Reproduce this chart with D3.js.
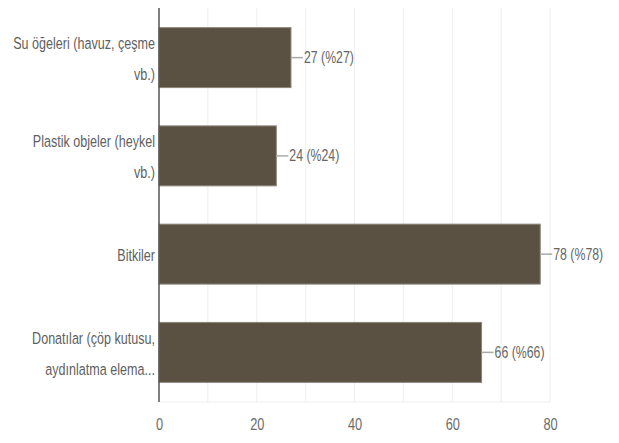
<!DOCTYPE html>
<html>
<head>
<meta charset="utf-8">
<script src="https://cdn.jsdelivr.net/npm/d3@7"></script>
<style>
  body { margin: 0; background: #fff; }
  svg text { font-family: "Liberation Sans", Arial, sans-serif; }
</style>
</head>
<body>
<div id="chart"></div>
<script>
// Chart data
const categories = [
    ["Su öğeleri (havuz, çeşme", "vb.)"],
    ["Plastik objeler (heykel", "vb.)"],
    ["Bitkiler"],
    ["Donatılar (çöp kutusu,", "aydınlatma elema..."]
];
const counts = [27, 24, 78, 66];
const percents = [27, 24, 78, 66];
const xTicks = [0, 20, 40, 60, 80];
const xGrid = [10, 20, 30, 40, 50, 60, 70, 80];

const width = 619, height = 443;
const margin = { top: 8, right: 69, bottom: 41, left: 159 };

// horizontal squeeze around an anchor x (reference text is tall and narrow)
const squeezeAt = (ax, k) => `translate(${ax},0) scale(${k},1) translate(${-ax},0)`;

const svg = d3.select("#chart")
    .append("svg")
    .attr("width", width)
    .attr("height", height);

const x = d3.scaleLinear()
    .domain([0, 80])
    .range([margin.left, width - margin.right]);

const y = d3.scaleBand()
    .domain(d3.range(categories.length))
    .range([margin.top, height - margin.bottom])
    .paddingInner(0.39)
    .paddingOuter(0.2);

// Gridlines
svg.append("g")
    .selectAll("line")
    .data(xGrid)
    .enter().append("line")
    .attr("x1", d => x(d))
    .attr("x2", d => x(d))
    .attr("y1", margin.top)
    .attr("y2", height - margin.bottom)
    .attr("stroke", "#eeeeee")
    .attr("stroke-width", 1);

// bottom baseline
svg.append("line")
    .attr("x1", margin.left)
    .attr("x2", x(80))
    .attr("y1", height - margin.bottom)
    .attr("y2", height - margin.bottom)
    .attr("stroke", "#eeeeee");

// Bars
svg.append("g")
    .selectAll("rect")
    .data(counts)
    .enter().append("rect")
    .attr("x", x(0))
    .attr("y", (d, i) => y(i))
    .attr("width", d => x(d) - x(0))
    .attr("height", y.bandwidth())
    .attr("fill", "#5a5142")
    .attr("stroke", "#8a8479")
    .attr("stroke-width", 1);

// Leader lines and value labels
const valueG = svg.append("g");
counts.forEach((d, i) => {
    const cy = y(i) + y.bandwidth() / 2;
    valueG.append("line")
        .attr("x1", x(d))
        .attr("x2", x(d) + 12)
        .attr("y1", cy)
        .attr("y2", cy)
        .attr("stroke", "#aaaaaa")
        .attr("stroke-width", 1.5);
    valueG.append("text")
        .attr("x", x(d) + 13)
        .attr("y", cy)
        .attr("dy", "0.35em")
        .attr("transform", squeezeAt(x(d) + 13, 0.77))
        .attr("fill", "#666666")
        .attr("font-size", 16)
        .text(`${d} (%${percents[i]})`);
});

// Category labels
const catG = svg.append("g");
categories.forEach((lines, i) => {
    const cy = y(i) + y.bandwidth() / 2 + 1;
    const lh = 31;
    const ax = margin.left - 4;
    const t = catG.append("text")
        .attr("text-anchor", "end")
        .attr("transform", squeezeAt(ax, 0.74))
        .attr("fill", "#5f5f5f")
        .attr("font-size", 17);
    lines.forEach((s, j) => {
        t.append("tspan")
            .attr("x", ax)
            .attr("y", cy + (j - (lines.length - 1) / 2) * lh)
            .attr("dy", "0.35em")
            .text(s);
    });
});

// Y axis line
svg.append("line")
    .attr("x1", x(0))
    .attr("x2", x(0))
    .attr("y1", margin.top)
    .attr("y2", height - margin.bottom)
    .attr("stroke", "#555555")
    .attr("stroke-width", 1.5);

// X axis tick labels
const xAxis = svg.append("g")
    .attr("transform", `translate(0,${height - margin.bottom})`)
    .call(d3.axisBottom(x).tickValues(xTicks).tickSize(0).tickPadding(17));
xAxis.select(".domain").remove();
xAxis.selectAll("text")
    .attr("fill", "#6b6b6b")
    .attr("font-size", 16)
    .attr("font-family", "\"Liberation Sans\", Arial, sans-serif")
    .attr("transform", "scale(0.8,1)");
</script>
</body>
</html>
